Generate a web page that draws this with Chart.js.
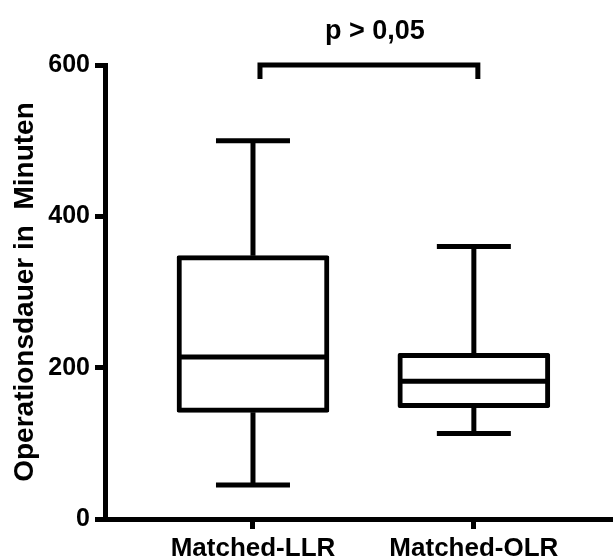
<!DOCTYPE html>
<html>
<head>
<meta charset="utf-8">
<script src="https://cdn.jsdelivr.net/npm/chart.js@4"></script>
<style>
  html, body { margin: 0; padding: 0; background: #fff; overflow: hidden; }
  #wrap { position: relative; width: 613px; height: 558px; }
</style>
</head>
<body>
<div id="wrap"><canvas id="chart"></canvas></div>
<script>
// box plot values (minutes)
const categories = ['Matched-LLR', 'Matched-OLR'];
const whiskerMin = [45, 113];
const q1 = [141, 147];
const median = [214, 182];
const q3 = [348, 219];
const whiskerMax = [500, 360];
const yTicks = [0, 200, 400, 600];
const pLabel = 'p > 0,05';

const FONT = '"Liberation Sans", Arial, sans-serif';
const LW = 5;

// whiskers, caps, median and the significance bracket
const boxExtras = {
  id: 'boxExtras',
  afterDatasetsDraw(chart) {
    const ctx = chart.ctx, x = chart.scales.x, y = chart.scales.y;
    ctx.save();
    ctx.strokeStyle = '#000';
    ctx.lineWidth = LW;
    ctx.lineCap = 'butt';
    categories.forEach((c, i) => {
      const cx = x.getPixelForValue(i + 1);
      ctx.beginPath();
      // upper whisker + cap
      ctx.moveTo(cx, y.getPixelForValue(q3[i]));
      ctx.lineTo(cx, y.getPixelForValue(whiskerMax[i]));
      ctx.moveTo(cx - 37, y.getPixelForValue(whiskerMax[i]));
      ctx.lineTo(cx + 37, y.getPixelForValue(whiskerMax[i]));
      // lower whisker + cap
      ctx.moveTo(cx, y.getPixelForValue(q1[i]));
      ctx.lineTo(cx, y.getPixelForValue(whiskerMin[i]));
      ctx.moveTo(cx - 37, y.getPixelForValue(whiskerMin[i]));
      ctx.lineTo(cx + 37, y.getPixelForValue(whiskerMin[i]));
      // median
      ctx.moveTo(cx - 75, y.getPixelForValue(median[i]));
      ctx.lineTo(cx + 75, y.getPixelForValue(median[i]));
      ctx.stroke();
    });
    ctx.restore();
  },
  afterDraw(chart) {
    const ctx = chart.ctx, x = chart.scales.x, y = chart.scales.y;
    const top = y.getPixelForValue(600);
    const xl = x.getPixelForValue(1) + 7;
    const xr = x.getPixelForValue(2) + 4;
    ctx.save();
    ctx.strokeStyle = '#000';
    ctx.lineWidth = LW;
    ctx.lineJoin = 'miter';
    ctx.beginPath();
    ctx.moveTo(xl, top + 14);
    ctx.lineTo(xl, top);
    ctx.lineTo(xr, top);
    ctx.lineTo(xr, top + 14);
    ctx.stroke();
    ctx.fillStyle = '#000';
    ctx.font = 'bold 27px ' + FONT;
    ctx.textAlign = 'center';
    ctx.textBaseline = 'alphabetic';
    ctx.fillText(pLabel, (xl + xr) / 2 + 6, top - 26);
    ctx.restore();
  }
};

new Chart(document.getElementById('chart'), {
  type: 'bar',
  data: {
    datasets: [{
      data: categories.map((c, i) => ({ x: i + 1, y: [q1[i], q3[i]] })),
      backgroundColor: '#fff',
      borderColor: '#000',
      borderWidth: LW,
      borderSkipped: false,
      borderRadius: 2,
      barThickness: 152
    }]
  },
  options: {
    responsive: true,
    maintainAspectRatio: false,
    animation: false,
    layout: { padding: { top: 65, left: 0, right: 0, bottom: 0 } },
    plugins: { legend: { display: false }, tooltip: { enabled: false } },
    scales: {
      x: {
        type: 'linear',
        min: 0.33,
        max: 2.63,
        offset: false,
        afterBuildTicks: s => { s.ticks = [{ value: 1 }, { value: 2 }]; },
        afterFit: s => { s.height = 39; },
        ticks: {
          callback: v => categories[v - 1],
          font: { family: FONT, size: 26, weight: 'bold' },
          color: '#000',
          padding: 4,
          maxRotation: 0
        },
        grid: { offset: false, drawOnChartArea: false, tickLength: 10, tickWidth: LW, tickColor: '#000' },
        border: { width: LW, color: '#000' }
      },
      y: {
        min: 0,
        max: 600,
        afterBuildTicks: s => { s.ticks = yTicks.map(v => ({ value: v })); },
        afterFit: s => { s.width = 105; },
        ticks: {
          font: { family: FONT, size: 25, weight: 'bold' },
          color: '#000',
          padding: 5
        },
        grid: { drawOnChartArea: false, tickLength: 10, tickWidth: LW, tickColor: '#000' },
        border: { width: LW, color: '#000' },
        title: {
          display: true,
          text: 'Operationsdauer in  Minuten',
          font: { family: FONT, size: 28, weight: 'bold' },
          color: '#000',
          padding: { top: 8, bottom: 0 }
        }
      }
    }
  },
  plugins: [boxExtras]
});
</script>
</body>
</html>
